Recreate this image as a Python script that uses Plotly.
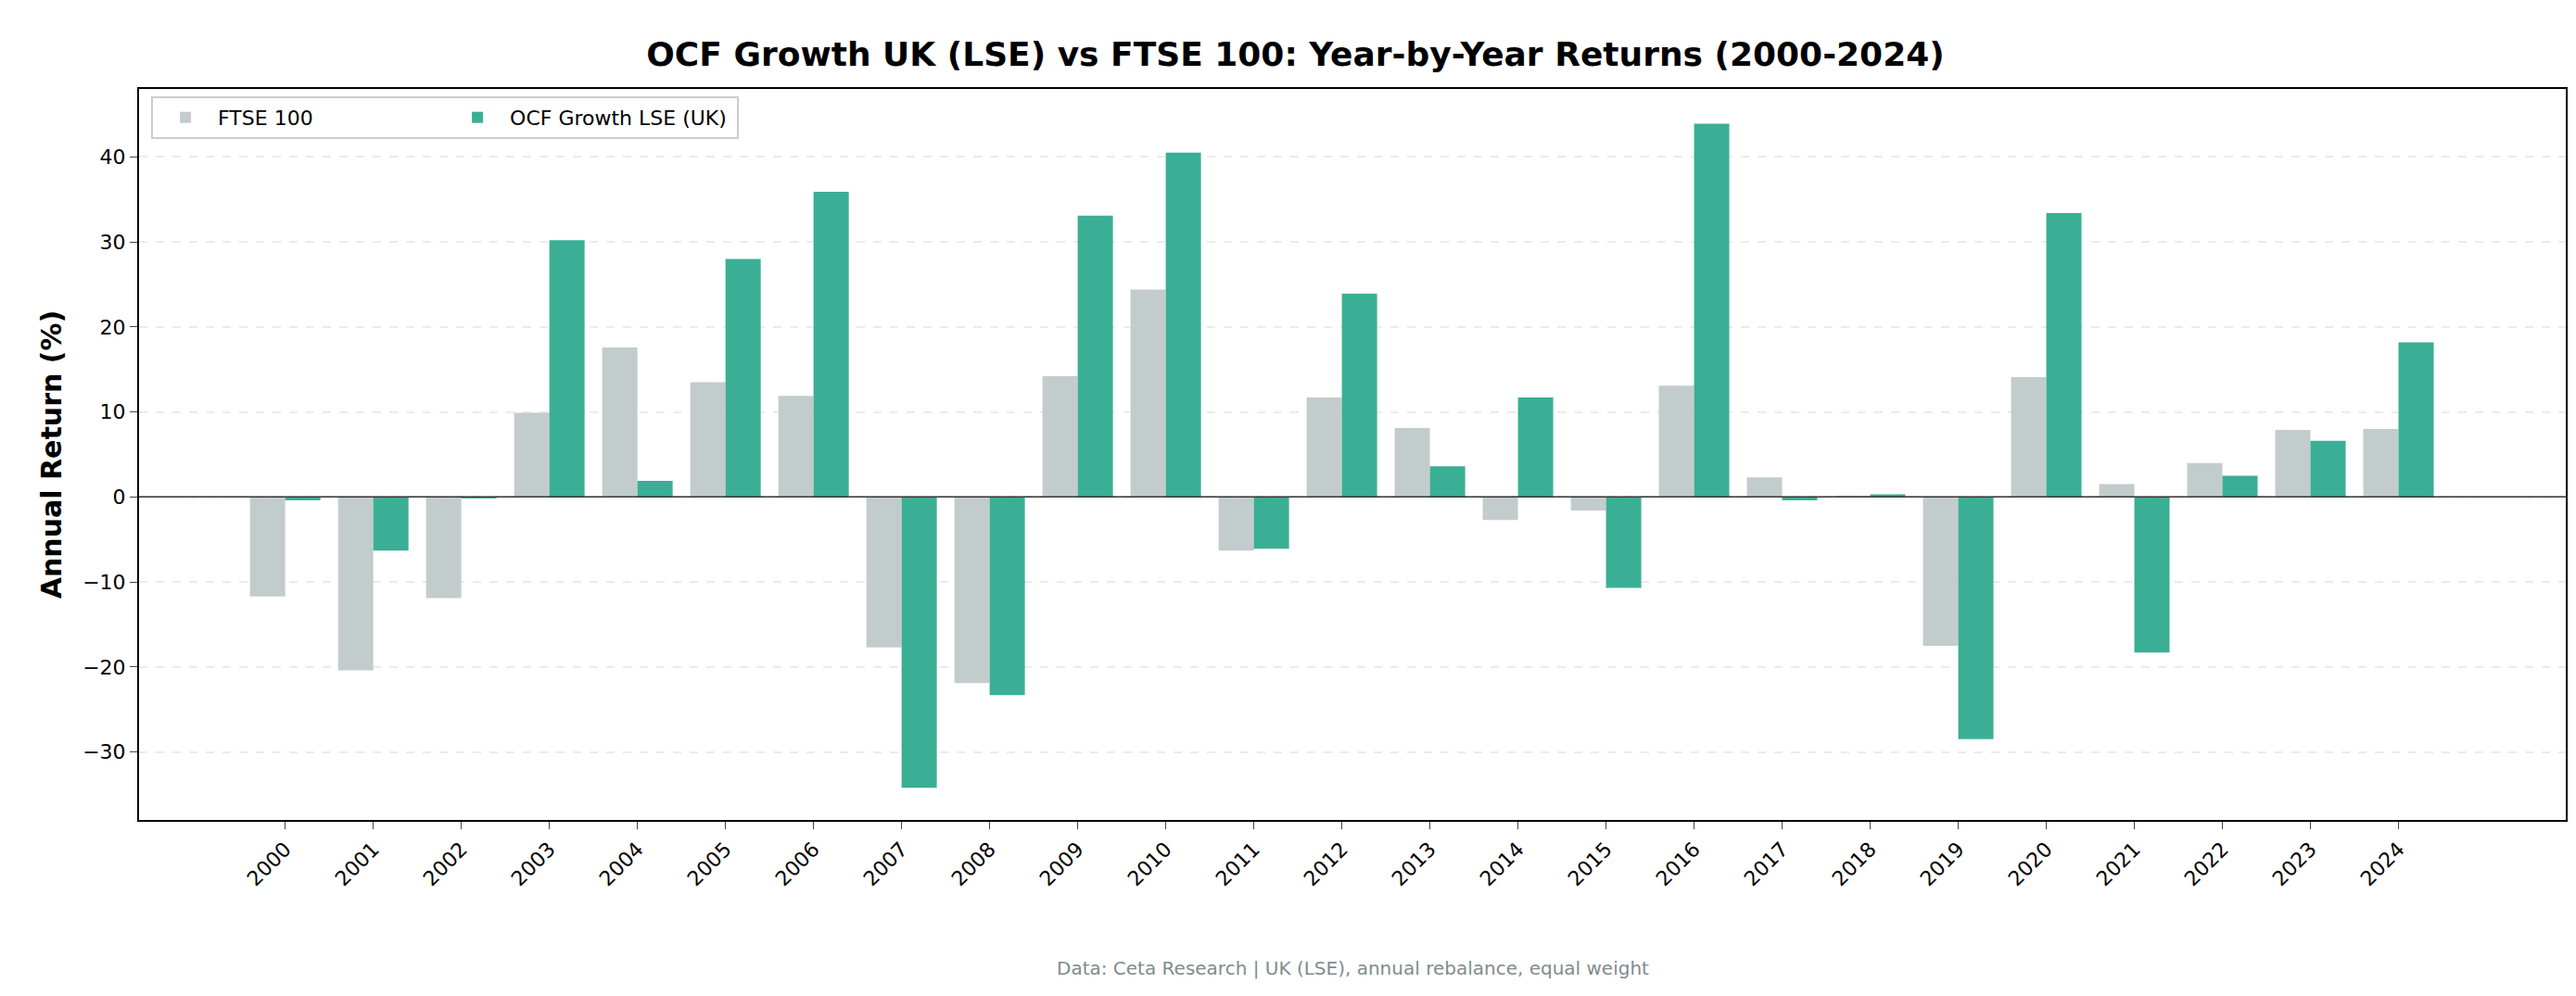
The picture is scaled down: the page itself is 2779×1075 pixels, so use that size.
import plotly.graph_objects as go

years = [str(y) for y in range(2000, 2025)]
ftse = [-11.7, -20.4, -11.9, 9.9, 17.6, 13.5, 11.9, -17.7, -21.9, 14.2, 24.4, -6.3, 11.7, 8.1, -2.7, -1.6, 13.1, 2.3, 0.1, -17.5, 14.1, 1.5, 4.0, 7.9, 8.0]
ocf = [-0.4, -6.3, -0.1, 30.2, 1.9, 28.0, 35.9, -34.2, -23.3, 33.1, 40.5, -6.1, 23.9, 3.6, 11.7, -10.7, 43.9, -0.4, 0.3, -28.5, 33.4, -18.3, 2.5, 6.6, 18.2]

xi = list(range(len(years)))
fig = go.Figure()
fig.add_bar(x=xi, y=ftse, name="FTSE 100", marker=dict(color="#c3cccc", line_width=0), offset=-0.4, width=0.4)
fig.add_bar(x=xi, y=ocf, name="OCF Growth LSE (UK)", marker=dict(color="#3aaf95", line_width=0), offset=0, width=0.4)

fig.add_hline(y=0, line=dict(color="#333", width=1.5))

fig.update_layout(
    width=2779, height=1075, plot_bgcolor="white", paper_bgcolor="white",
    font=dict(family="DejaVu Sans", size=22, color="black"),
    title=dict(text="<b>OCF Growth UK (LSE) vs FTSE 100: Year-by-Year Returns (2000-2024)</b>",
               x=0.5, xanchor="center", y=0.965, font=dict(size=36)),
    margin=dict(l=142, r=19, t=88, b=198),
    barmode="overlay",
    legend=dict(x=0.005, y=0.99, xanchor="left", yanchor="top", orientation="h",
                bgcolor="white", bordercolor="#cccccc", borderwidth=2, font=dict(size=22),
                itemwidth=60, entrywidth=240, entrywidthmode="pixels", tracegroupgap=0),
    showlegend=True,
)
fig.update_xaxes(range=[-1.66, 25.9], tickmode="array", tickvals=xi, ticktext=years,
                 tickangle=-45, ticks="outside", ticklen=8, showline=True, mirror=True,
                 linecolor="black", linewidth=2, showgrid=False, zeroline=False)
fig.update_yaxes(range=[-38, 48], tickvals=[-30, -20, -10, 0, 10, 20, 30, 40],
                 ticktext=["\u221230", "\u221220", "\u221210", "0", "10", "20", "30", "40"],
                 ticks="outside", ticklen=8, showline=True, mirror=True, linecolor="black", linewidth=2,
                 showgrid=True, gridcolor="#ebebeb", griddash="dash", gridwidth=1.5, zeroline=False,
                 title=dict(text="<b>Annual Return (%)</b>", font=dict(size=30), standoff=14))
fig.add_annotation(text="Data: Ceta Research | UK (LSE), annual rebalance, equal weight",
                   xref="paper", yref="paper", x=0.5, y=-0.185, yanchor="top", showarrow=False,
                   font=dict(size=20, color="#7f8c8d"))
fig.write_html("out.html")
